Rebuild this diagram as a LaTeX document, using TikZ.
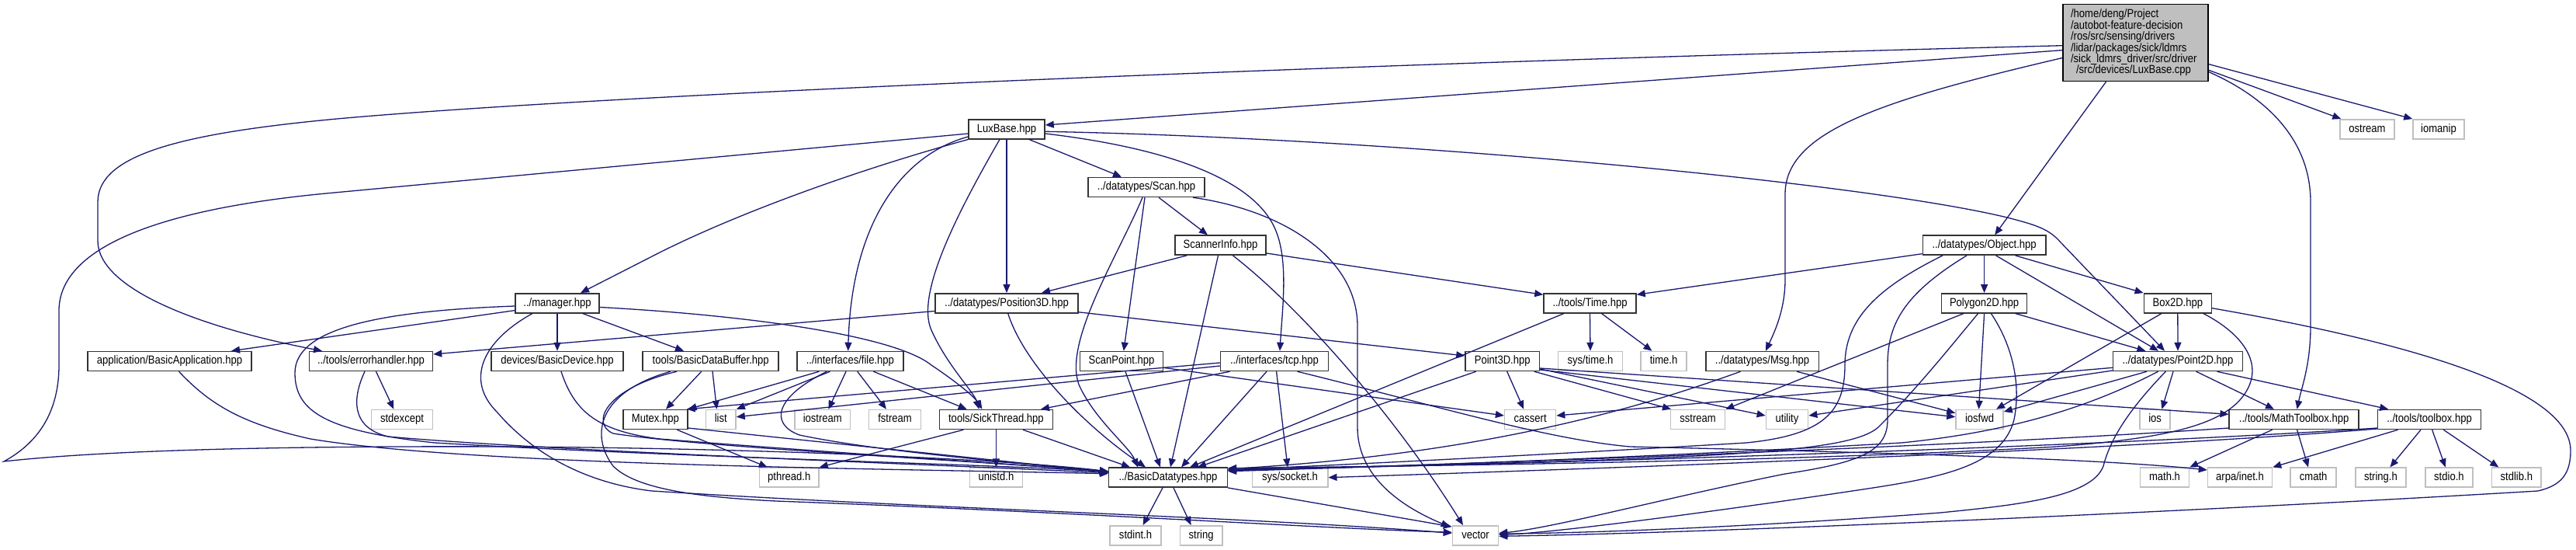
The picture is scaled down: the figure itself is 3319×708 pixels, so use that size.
\documentclass[tikz,border=0pt]{standalone}
\usepackage{fontspec}
\newfontfamily\dfont{Liberation Sans}[FakeStretch=0.87]
\usetikzlibrary{arrows.meta}
\definecolor{edgec}{HTML}{191970}
\definecolor{gbd}{HTML}{BFBFBF}
\definecolor{dbd}{HTML}{333333}
\definecolor{mfill}{HTML}{BFBFBF}
\tikzset{
 dep/.style={draw=edgec, line width=1.3pt, -{Triangle[length=11pt,width=9pt]}},
 nbase/.style={inner sep=0pt, minimum height=25pt, line width=1.5pt, fill=white, font=\dfont\fontsize{15}{17}\selectfont, text height=10.5pt, text depth=3pt, text=black},
 dbox/.style={nbase, draw=dbd},
 gbox/.style={nbase, draw=gbd},
}
\begin{document}
\begin{tikzpicture}[x=1pt,y=-1pt]
\fill[white] (0,0) rectangle (3319,708);
\useasboundingbox (0,0) rectangle (3319,708);
% nodes
\node[draw=black, fill=mfill, line width=1.5pt, inner xsep=10pt, inner ysep=0pt, text width=167pt, minimum height=99pt, align=left, font=\dfont\fontsize{15}{14.45}\selectfont] (main) at (2751.5,55) {/home/deng/Project\\/autobot-feature-decision\\/ros/src/sensing/drivers\\/lidar/packages/sick/ldmrs\\/sick\_ldmrs\_driver/src/driver\\\hspace*{7pt}/src/devices/LuxBase.cpp};
\node[dbox, minimum width=98pt] (lux) at (1297,166.3) {LuxBase.hpp};
\node[gbox, minimum width=70pt] (ostr) at (3050,166.3) {ostream};
\node[gbox, minimum width=66pt] (ioman) at (3142,166.3) {iomanip};
\node[dbox, minimum width=150pt] (scan) at (1477,241) {../datatypes/Scan.hpp};
\node[dbox, minimum width=117pt] (sinfo) at (1572.5,315.7) {ScannerInfo.hpp};
\node[dbox, minimum width=158.4pt] (obj) at (2556.6,315.7) {../datatypes/Object.hpp};
\node[dbox, minimum width=108pt] (mgr) at (718,390.3) {../manager.hpp};
\node[dbox, minimum width=184pt] (pos) at (1297,390.3) {../datatypes/Position3D.hpp};
\node[dbox, minimum width=119pt] (tim) at (2048.5,390.3) {../tools/Time.hpp};
\node[dbox, minimum width=110pt] (poly) at (2556.6,390.3) {Polygon2D.hpp};
\node[dbox, minimum width=87pt] (box) at (2805.8,390.3) {Box2D.hpp};
\node[dbox, minimum width=211pt] (app) at (218.5,465) {application/BasicApplication.hpp};
\node[dbox, minimum width=159pt] (err) at (478,465) {../tools/errorhandler.hpp};
\node[dbox, minimum width=170pt] (dev) at (718,465) {devices/BasicDevice.hpp};
\node[dbox, minimum width=175pt] (buf) at (915.7,465) {tools/BasicDataBuffer.hpp};
\node[dbox, minimum width=137pt] (file) at (1095.4,465) {../interfaces/file.hpp};
\node[dbox, minimum width=106.7pt] (spt) at (1445,465) {ScanPoint.hpp};
\node[dbox, minimum width=139pt] (tcp) at (1642,465) {../interfaces/tcp.hpp};
\node[dbox, minimum width=95.4pt] (p3d) at (1935.7,465) {Point3D.hpp};
\node[gbox, minimum width=83pt] (stime) at (2049,465) {sys/time.h};
\node[gbox, minimum width=59pt] (timeh) at (2143.5,465) {time.h};
\node[dbox, minimum width=145.5pt] (msg) at (2270.5,465) {../datatypes/Msg.hpp};
\node[dbox, minimum width=166.8pt] (p2d) at (2806,465) {../datatypes/Point2D.hpp};
\node[gbox, minimum width=79pt] (stdexc) at (518,540) {stdexcept};
\node[dbox, minimum width=83pt] (mutex) at (844.4,540) {Mutex.hpp};
\node[gbox, minimum width=38.5pt] (list) at (928.8,540) {list};
\node[gbox, minimum width=71.7pt] (iostr) at (1059.8,540) {iostream};
\node[gbox, minimum width=66.7pt] (fstr) at (1153,540) {fstream};
\node[dbox, minimum width=146pt] (sick) at (1283.4,540) {tools/SickThread.hpp};
\node[gbox, minimum width=66pt] (cass) at (1971.6,540) {cassert};
\node[gbox, minimum width=70pt] (sstr) at (2187.6,540) {sstream};
\node[gbox, minimum width=54.3pt] (util) at (2302.5,540) {utility};
\node[gbox, minimum width=61pt] (iosfwd) at (2550.5,540) {iosfwd};
\node[gbox, minimum width=39pt] (ios) at (2776.6,540) {ios};
\node[dbox, minimum width=166.8pt] (mtb) at (2955.6,540) {../tools/MathToolbox.hpp};
\node[dbox, minimum width=133pt] (tbox) at (3130,540) {../tools/toolbox.hpp};
\node[gbox, minimum width=76.7pt] (pth) at (1016.7,614.7) {pthread.h};
\node[gbox, minimum width=68pt] (unistd) at (1283.4,614.7) {unistd.h};
\node[dbox, minimum width=152.6pt] (bdt) at (1505,614.7) {../BasicDatatypes.hpp};
\node[gbox, minimum width=97.5pt] (sock) at (1662,614.7) {sys/socket.h};
\node[gbox, minimum width=63pt] (mathh) at (2789,614.7) {math.h};
\node[gbox, minimum width=83pt] (arpa) at (2886,614.7) {arpa/inet.h};
\node[gbox, minimum width=59pt] (cmath) at (2980.6,614.7) {cmath};
\node[gbox, minimum width=65pt] (strh) at (3067.4,614.7) {string.h};
\node[gbox, minimum width=61pt] (stdio) at (3155.4,614.7) {stdio.h};
\node[gbox, minimum width=63.3pt] (stdlib) at (3242.3,614.7) {stdlib.h};
\node[gbox, minimum width=66pt] (stdint) at (1463,689.3) {stdint.h};
\node[gbox, minimum width=54.7pt] (str) at (1547.6,689.3) {string};
\node[gbox, minimum width=59pt] (vec) at (1901,689.3) {vector};
% main
\draw[dep] ([yshift=-3.7pt]main.west) .. controls (1800,80) and (800,120) .. (434,153) .. controls (230,172) and (126,200) .. (126,260) -- (126,310) .. controls (126,370) and (250,420) .. ([xshift=-63pt]err.north);
\draw[dep] ([yshift=-9.6pt]main.west) -- ([yshift=5.3pt]lux.east);
\draw[dep] ([yshift=-19.5pt]main.west) .. controls (2420,130) and (2300,170) .. (2300,250) -- (2300,360) .. controls (2300,400) and (2285,430) .. ([xshift=4.5pt]msg.north);
\draw[dep] ([xshift=-38pt]main.south) -- ([xshift=13.5pt]obj.north);
\draw[dep] ([yshift=-35.3pt]main.east) -- ([xshift=2pt]ostr.north west);
\draw[dep] ([yshift=-27.6pt]main.east) -- (ioman.north west);
\draw[dep] ([yshift=-37.6pt]main.east) .. controls (2920,125) and (2977,180) .. (2977,260) -- (2977,420) .. controls (2977,470) and (2965,500) .. ([xshift=4pt]mtb.north);
% LuxBase
\draw[dep] ([yshift=-5.7pt]lux.west) -- (420,249) .. controls (200,270) and (76,320) .. (76,400) -- (76,470) .. controls (76,540) and (40,575) .. (5,594) .. controls (150,578) and (400,574) .. (650,575) .. controls (1000,577) and (1300,592) .. ([yshift=8pt]bdt.west);
\draw[dep] (lux.south west) .. controls (1100,220) and (950,275) .. (850,325) -- ([xshift=30pt]mgr.north);
\draw[dep] ([yshift=-9.7pt]lux.west) .. controls (1160,200) and (1097,290) .. ([xshift=-2.7pt]file.north);
\draw[dep] ([xshift=-9pt]lux.south) .. controls (1230,280) and (1180,380) .. (1200,425) .. controls (1220,470) and (1255,505) .. ([xshift=-22pt]sick.north);
\draw[dep] (lux.south) -- (pos.north);
\draw[dep] ([xshift=29pt]lux.south) -- ([xshift=-32pt]scan.north);
\draw[dep] ([yshift=-3pt]lux.east) .. controls (1800,178) and (2400,235) .. (2586,280) .. controls (2625,290) and (2640,295) .. (2655,312) -- ([xshift=-17pt]p2d.north);
\draw[dep] ([yshift=-5.7pt]lux.east) .. controls (1500,190) and (1620,230) .. (1645,300) .. controls (1660,340) and (1652,400) .. ([xshift=7pt]tcp.north);
% manager
\draw[dep] ([yshift=-3.7pt]mgr.west) .. controls (500,400) and (380,420) .. (380,480) .. controls (380,530) and (420,555) .. (560,570) .. controls (900,590) and (1300,598) .. ([yshift=7pt]bdt.west);
\draw[dep] ([yshift=-9.3pt]mgr.west) -- ([xshift=79.5pt]app.north);
\draw[dep] ([xshift=-32pt]mgr.south) .. controls (620,440) and (600,490) .. (640,530) .. controls (700,600) and (780,625) .. (840,632) .. controls (1200,655) and (1600,665) .. ([yshift=3pt]vec.west);
\draw[dep] (mgr.south) -- (dev.north);
\draw[dep] ([xshift=32.7pt]mgr.south) -- ([xshift=-34.7pt]buf.north);
\draw[dep] ([yshift=-5.2pt]mgr.east) .. controls (950,405) and (1150,430) .. (1200,470) .. controls (1230,490) and (1255,510) .. ([xshift=-18pt]sick.north);
% Position3D
\draw[dep] ([yshift=-10.2pt]pos.west) -- ([yshift=9pt]err.east);
\draw[dep] ([yshift=-11.5pt]pos.east) -- ([yshift=7pt]p3d.west);
\draw[dep] ([xshift=1.7pt]pos.south) .. controls (1320,470) and (1400,550) .. ([xshift=-29pt]bdt.north);
% Scan
\draw[dep] ([xshift=16pt]scan.south) -- ([xshift=-16.5pt]sinfo.north);
\draw[dep] ([xshift=-2pt]scan.south) -- ([xshift=2.8pt]spt.north);
\draw[dep] ([xshift=-5pt]scan.south) .. controls (1440,330) and (1370,440) .. (1390,495) .. controls (1410,540) and (1455,575) .. ([xshift=-39pt]bdt.north);
\draw[dep] ([xshift=60pt]scan.south) .. controls (1650,270) and (1749,330) .. (1749,420) -- (1749,550) .. controls (1749,610) and (1800,650) .. ([xshift=-3pt,yshift=-2pt]vec.north west);
% ScannerInfo
\draw[dep] ([xshift=-43.5pt]sinfo.south) -- ([xshift=45pt]pos.north);
\draw[dep] ([yshift=-10.3pt]sinfo.east) -- ([yshift=11pt]tim.west);
\draw[dep] ([xshift=-3pt]sinfo.south) -- ([xshift=3pt]bdt.north);
\draw[dep] ([xshift=16pt]sinfo.south) .. controls (1680,400) and (1800,540) .. ([xshift=-16pt]vec.north);
% Time
\draw[dep] (tim.south) -- (stime.north);
\draw[dep] ([xshift=15pt]tim.south) -- ([xshift=-15pt]timeh.north);
\draw[dep] ([xshift=-33.5pt]tim.south) -- ([xshift=28pt]bdt.north);
% Point3D
\draw[dep] ([xshift=6pt]p3d.south) -- ([xshift=-8.4pt]cass.north);
\draw[dep] ([xshift=41pt]p3d.south) -- ([xshift=-34.6pt]sstr.north);
\draw[dep] ([yshift=-10pt]p3d.east) -- ([yshift=5pt]util.west);
\draw[dep] ([yshift=-11pt]p3d.east) -- ([yshift=3.3pt]iosfwd.west);
\draw[dep] ([yshift=-9pt]p3d.east) -- ([yshift=6.7pt]mtb.west);
\draw[dep] ([xshift=-34pt]p3d.south) -- ([xshift=38pt]bdt.north);
% Msg
\draw[dep] ([xshift=-28pt]msg.south) .. controls (2100,530) and (1900,585) .. ([yshift=11pt]bdt.east);
\draw[dep] ([xshift=44.5pt]msg.south) -- ([yshift=8.3pt]iosfwd.west);
% Object
\draw[dep] (obj.south) -- (poly.north);
\draw[dep] ([xshift=40pt]obj.south) -- (box.north west);
\draw[dep] ([xshift=15pt]obj.south) -- ([xshift=-25pt]p2d.north);
\draw[dep] ([yshift=-11pt]obj.west) -- ([yshift=11pt]tim.east);
\draw[dep] ([xshift=-53.6pt]obj.south) .. controls (2420,370) and (2377,410) .. (2377,470) .. controls (2377,530) and (2350,560) .. (2250,570) .. controls (2000,585) and (1700,600) .. ([yshift=10pt]bdt.east);
\draw[dep] ([xshift=-22.6pt]obj.south) .. controls (2450,380) and (2432,420) .. (2432,470) -- (2432,540) .. controls (2432,580) and (2400,595) .. (2300,610) .. controls (2150,640) and (2000,680) .. ([yshift=3pt]vec.east);
% Polygon2D
\draw[dep] ([xshift=40pt]poly.south) -- ([xshift=-41.6pt]p2d.north);
\draw[dep] (poly.south) -- ([xshift=-1pt]iosfwd.north);
\draw[dep] ([xshift=-8pt]poly.south) .. controls (2510,450) and (2470,500) .. (2420,550) .. controls (2380,585) and (2200,590) .. ([yshift=9pt]bdt.east);
\draw[dep] ([xshift=8.7pt]poly.south) .. controls (2590,440) and (2605,490) .. (2595,540) .. controls (2580,600) and (2500,615) .. (2400,630) .. controls (2200,660) and (2000,686) .. ([yshift=1pt]vec.east);
\draw[dep] ([xshift=-26.6pt]poly.south) -- (sstr.north east);
% Box2D
\draw[dep] (box.south) -- (p2d.north);
\draw[dep] ([xshift=-20.8pt]box.south) -- ([xshift=21.5pt]iosfwd.north);
\draw[dep] ([xshift=33pt]box.south) .. controls (2890,430) and (2920,470) .. (2890,510) .. controls (2860,550) and (2780,565) .. (2650,575) .. controls (2300,595) and (1800,600) .. ([yshift=12pt]bdt.east);
\draw[dep] ([yshift=-6.4pt]box.east) .. controls (3100,440) and (3312,500) .. (3312,580) .. controls (3312,610) and (3300,625) .. (3270,632) .. controls (2800,660) and (2200,686) .. ([yshift=-1pt]vec.east);
% Point2D
\draw[dep] ([yshift=-8.3pt]p2d.west) -- ([yshift=5pt]cass.east);
\draw[dep] ([yshift=-12pt]p2d.west) -- ([yshift=5pt]util.east);
\draw[dep] ([xshift=-40pt]p2d.south) -- ([yshift=10pt]iosfwd.east);
\draw[dep] ([xshift=-25.5pt]p2d.south) .. controls (2700,520) and (2600,555) .. (2450,570) .. controls (2100,590) and (1800,600) .. ([yshift=8pt]bdt.east);
\draw[dep] ([xshift=-15.7pt]p2d.south) .. controls (2750,520) and (2720,560) .. (2710,600) .. controls (2695,640) and (2600,650) .. (2500,660) .. controls (2300,675) and (2100,685) .. ([yshift=2pt]vec.east);
\draw[dep] ([xshift=-6pt]p2d.south) -- ([xshift=8.8pt]ios.north);
\draw[dep] ([xshift=23.6pt]p2d.south) -- ([xshift=-25.6pt]mtb.north);
\draw[dep] ([xshift=50.5pt]p2d.south) -- ([xshift=-52.8pt]tbox.north);
% tcp
\draw[dep] ([yshift=-2pt]tcp.west) -- ([xshift=-2pt]mutex.north east);
\draw[dep] ([yshift=-6pt]tcp.west) -- ([yshift=3.3pt]list.east);
\draw[dep] ([xshift=-57.5pt]tcp.south) -- ([xshift=57.6pt]sick.north);
\draw[dep] ([xshift=-10pt]tcp.south) -- ([xshift=17pt]bdt.north);
\draw[dep] ([xshift=2.6pt]tcp.south) -- ([xshift=-3pt]sock.north);
\draw[dep] ([xshift=29.6pt]tcp.south) .. controls (1850,522) and (1990,565) .. (2100,575) .. controls (2400,582) and (2700,590) .. ([yshift=9.7pt]arpa.west);
% ScanPoint
\draw[dep] ([yshift=-8.3pt]spt.east) -- ([yshift=5pt]cass.west);
\draw[dep] ([xshift=5pt]spt.south) -- ([xshift=-10pt]bdt.north);
% SickThread
\draw[dep] ([xshift=-42pt]sick.south) -- (pth.north east);
\draw[dep] (sick.south) -- (unistd.north);
\draw[dep] ([xshift=34.6pt]sick.south) -- ([xshift=-49pt]bdt.north);
% Mutex
\draw[dep] ([xshift=28pt]mutex.south) -- ([xshift=-28pt]pth.north);
\draw[dep] ([yshift=-11pt]mutex.east) -- ([yshift=7pt]bdt.west);
% BasicDataBuffer
\draw[dep] ([xshift=-12pt]buf.south) -- ([xshift=13.6pt]mutex.north);
\draw[dep] ([xshift=2.3pt]buf.south) -- ([xshift=-5.3pt]list.north);
\draw[dep] ([xshift=-43.7pt]buf.south) .. controls (780,500) and (760,545) .. (790,558) .. controls (900,575) and (1200,590) .. ([yshift=8pt]bdt.west);
\draw[dep] ([xshift=-52pt]buf.south) .. controls (770,505) and (760,560) .. (790,600) .. controls (820,630) and (900,640) .. (1000,645) .. controls (1400,660) and (1700,680) .. ([yshift=4pt]vec.west);
% file
\draw[dep] ([xshift=-40pt]file.south) -- (mutex.north east);
\draw[dep] ([xshift=-26pt]file.south) -- (list.north east);
\draw[dep] ([xshift=-5.4pt]file.south) -- ([xshift=7.6pt]iostr.north);
\draw[dep] ([xshift=9.3pt]file.south) -- ([xshift=-11pt]fstr.north);
\draw[dep] ([xshift=30pt]file.south) -- ([xshift=-37.7pt]sick.north);
\draw[dep] ([xshift=-30pt]file.south) .. controls (1000,510) and (990,545) .. (1030,560) .. controls (1150,585) and (1350,598) .. ([yshift=6pt]bdt.west);
% app, err, dev
\draw[dep] ([xshift=12pt]app.south) .. controls (270,520) and (310,545) .. (400,565) .. controls (600,598) and (1100,603) .. ([yshift=5pt]bdt.west);
\draw[dep] ([xshift=6.5pt]err.south) -- ([xshift=-10.7pt]stdexc.north);
\draw[dep] ([xshift=-8pt]err.south) .. controls (455,510) and (450,550) .. (500,562) .. controls (700,580) and (1200,598) .. ([yshift=6pt]bdt.west);
\draw[dep] ([xshift=5pt]dev.south) .. controls (740,530) and (770,555) .. (850,565) .. controls (1100,585) and (1350,600) .. ([yshift=7pt]bdt.west);
% MathToolbox
\draw[dep] ([xshift=-28pt]mtb.south) -- (mathh.north east);
\draw[dep] ([xshift=4pt]mtb.south) -- ([xshift=-6.6pt]cmath.north);
\draw[dep] ([yshift=-11pt]mtb.west) .. controls (2600,570) and (2000,595) .. ([yshift=9pt]bdt.east);
% toolbox
\draw[dep] ([xshift=-11pt]tbox.south) -- ([xshift=12pt]strh.north);
\draw[dep] ([xshift=3.6pt]tbox.south) -- ([xshift=-4.6pt]stdio.north);
\draw[dep] ([xshift=18.3pt]tbox.south) -- ([xshift=-23pt]stdlib.north);
\draw[dep] ([xshift=-40.5pt]tbox.south) -- (arpa.north east);
\draw[dep] ([yshift=-11pt]tbox.west) .. controls (2700,575) and (2000,597) .. ([yshift=10pt]bdt.east);
\draw[dep] ([yshift=-12pt]tbox.west) .. controls (2700,582) and (2000,605) .. (sock.east);
% BasicDatatypes
\draw[dep] ([xshift=-7pt]bdt.south) -- ([xshift=9.6pt]stdint.north);
\draw[dep] ([xshift=7pt]bdt.south) -- ([xshift=-13pt]str.north);
\draw[dep] (bdt.south east) -- ([yshift=-2pt]vec.north west);
\end{tikzpicture}
\end{document}
